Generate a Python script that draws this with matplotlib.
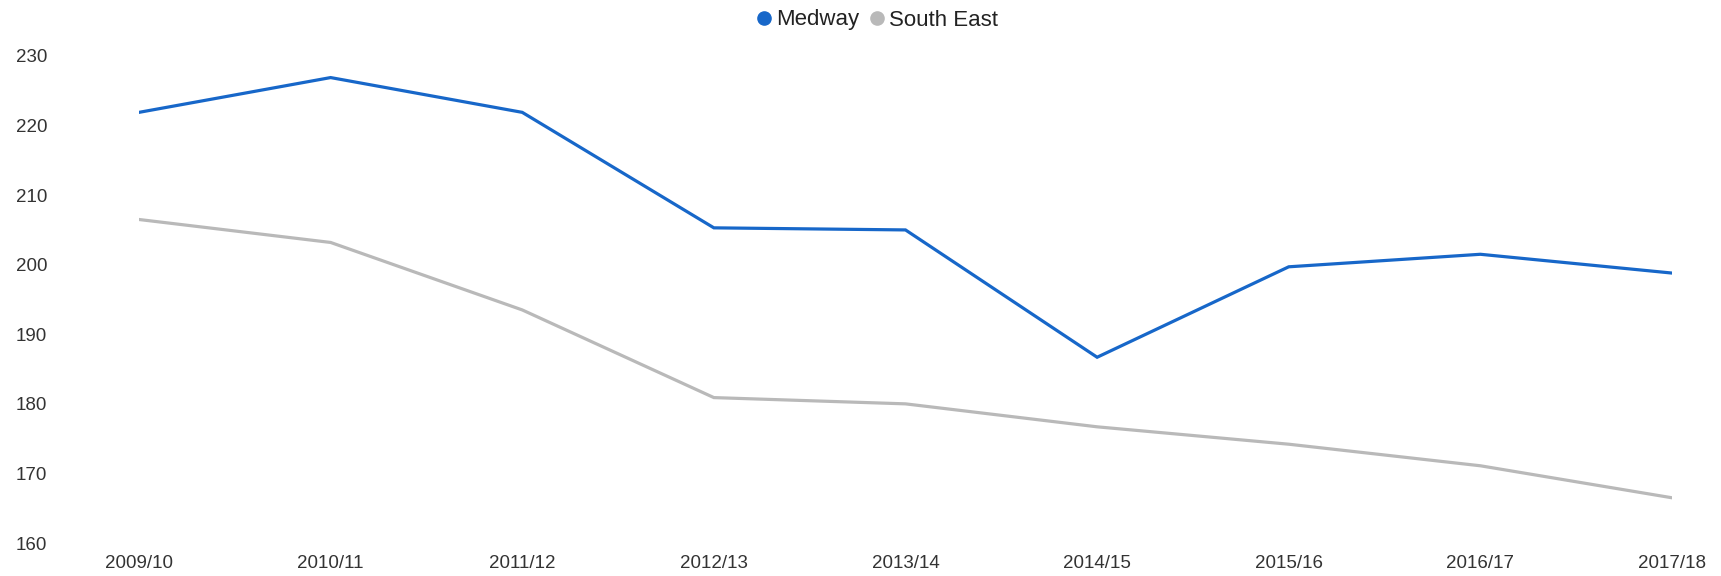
import matplotlib
matplotlib.use("Agg")
import matplotlib.pyplot as plt
from matplotlib.lines import Line2D

years = ["2009/10", "2010/11", "2011/12", "2012/13", "2013/14",
         "2014/15", "2015/16", "2016/17", "2017/18"]
medway = [221.9, 226.9, 221.9, 205.3, 205.0, 186.7, 199.7, 201.5, 198.8]
south_east = [206.5, 203.2, 193.5, 180.9, 180.0, 176.7, 174.2, 171.1, 166.5]
y_ticks = [160, 170, 180, 190, 200, 210, 220, 230]

BLUE = "#1767c9"
GREY = "#b9b9b9"
TEXT = "#333333"

plt.rcParams["font.family"] = ["Liberation Sans", "DejaVu Sans"]

W, H = 1721, 576
fig = plt.figure(figsize=(W / 100, H / 100), dpi=100)
fig.patch.set_facecolor("white")

left, right = 139, 1672
bottom, top = H - 543, H - 56
ax = fig.add_axes([left / W, bottom / H, (right - left) / W, (top - bottom) / H])

x = list(range(len(years)))
ax.plot(x, medway, color=BLUE, lw=2.3, solid_joinstyle="miter")
ax.plot(x, south_east, color=GREY, lw=2.3, solid_joinstyle="miter")

ax.set_xlim(0, len(years) - 1)
ax.set_ylim(160, 230)
ax.set_xticks(x)
ax.set_xticklabels(years)
ax.set_yticks(y_ticks)

for s in ax.spines.values():
    s.set_visible(False)
ax.tick_params(axis="both", length=0, labelsize=13.5, labelcolor=TEXT)
ax.tick_params(axis="y", pad=66)
ax.tick_params(axis="x", pad=9)

handles = [
    Line2D([], [], marker="o", linestyle="none", markersize=9.5,
           markerfacecolor=BLUE, markeredgecolor=BLUE, label="Medway"),
    Line2D([], [], marker="o", linestyle="none", markersize=9.5,
           markerfacecolor=GREY, markeredgecolor=GREY, label="South East"),
]
fig.legend(handles=handles, loc="center", bbox_to_anchor=(0.510, 1 - 20 / H),
           ncol=2, frameon=False, fontsize=16, handlelength=0.6,
           handletextpad=0.25, columnspacing=0.5, borderpad=0,
           labelcolor="#222222")

fig.savefig("out.png", dpi=100, facecolor="white")
